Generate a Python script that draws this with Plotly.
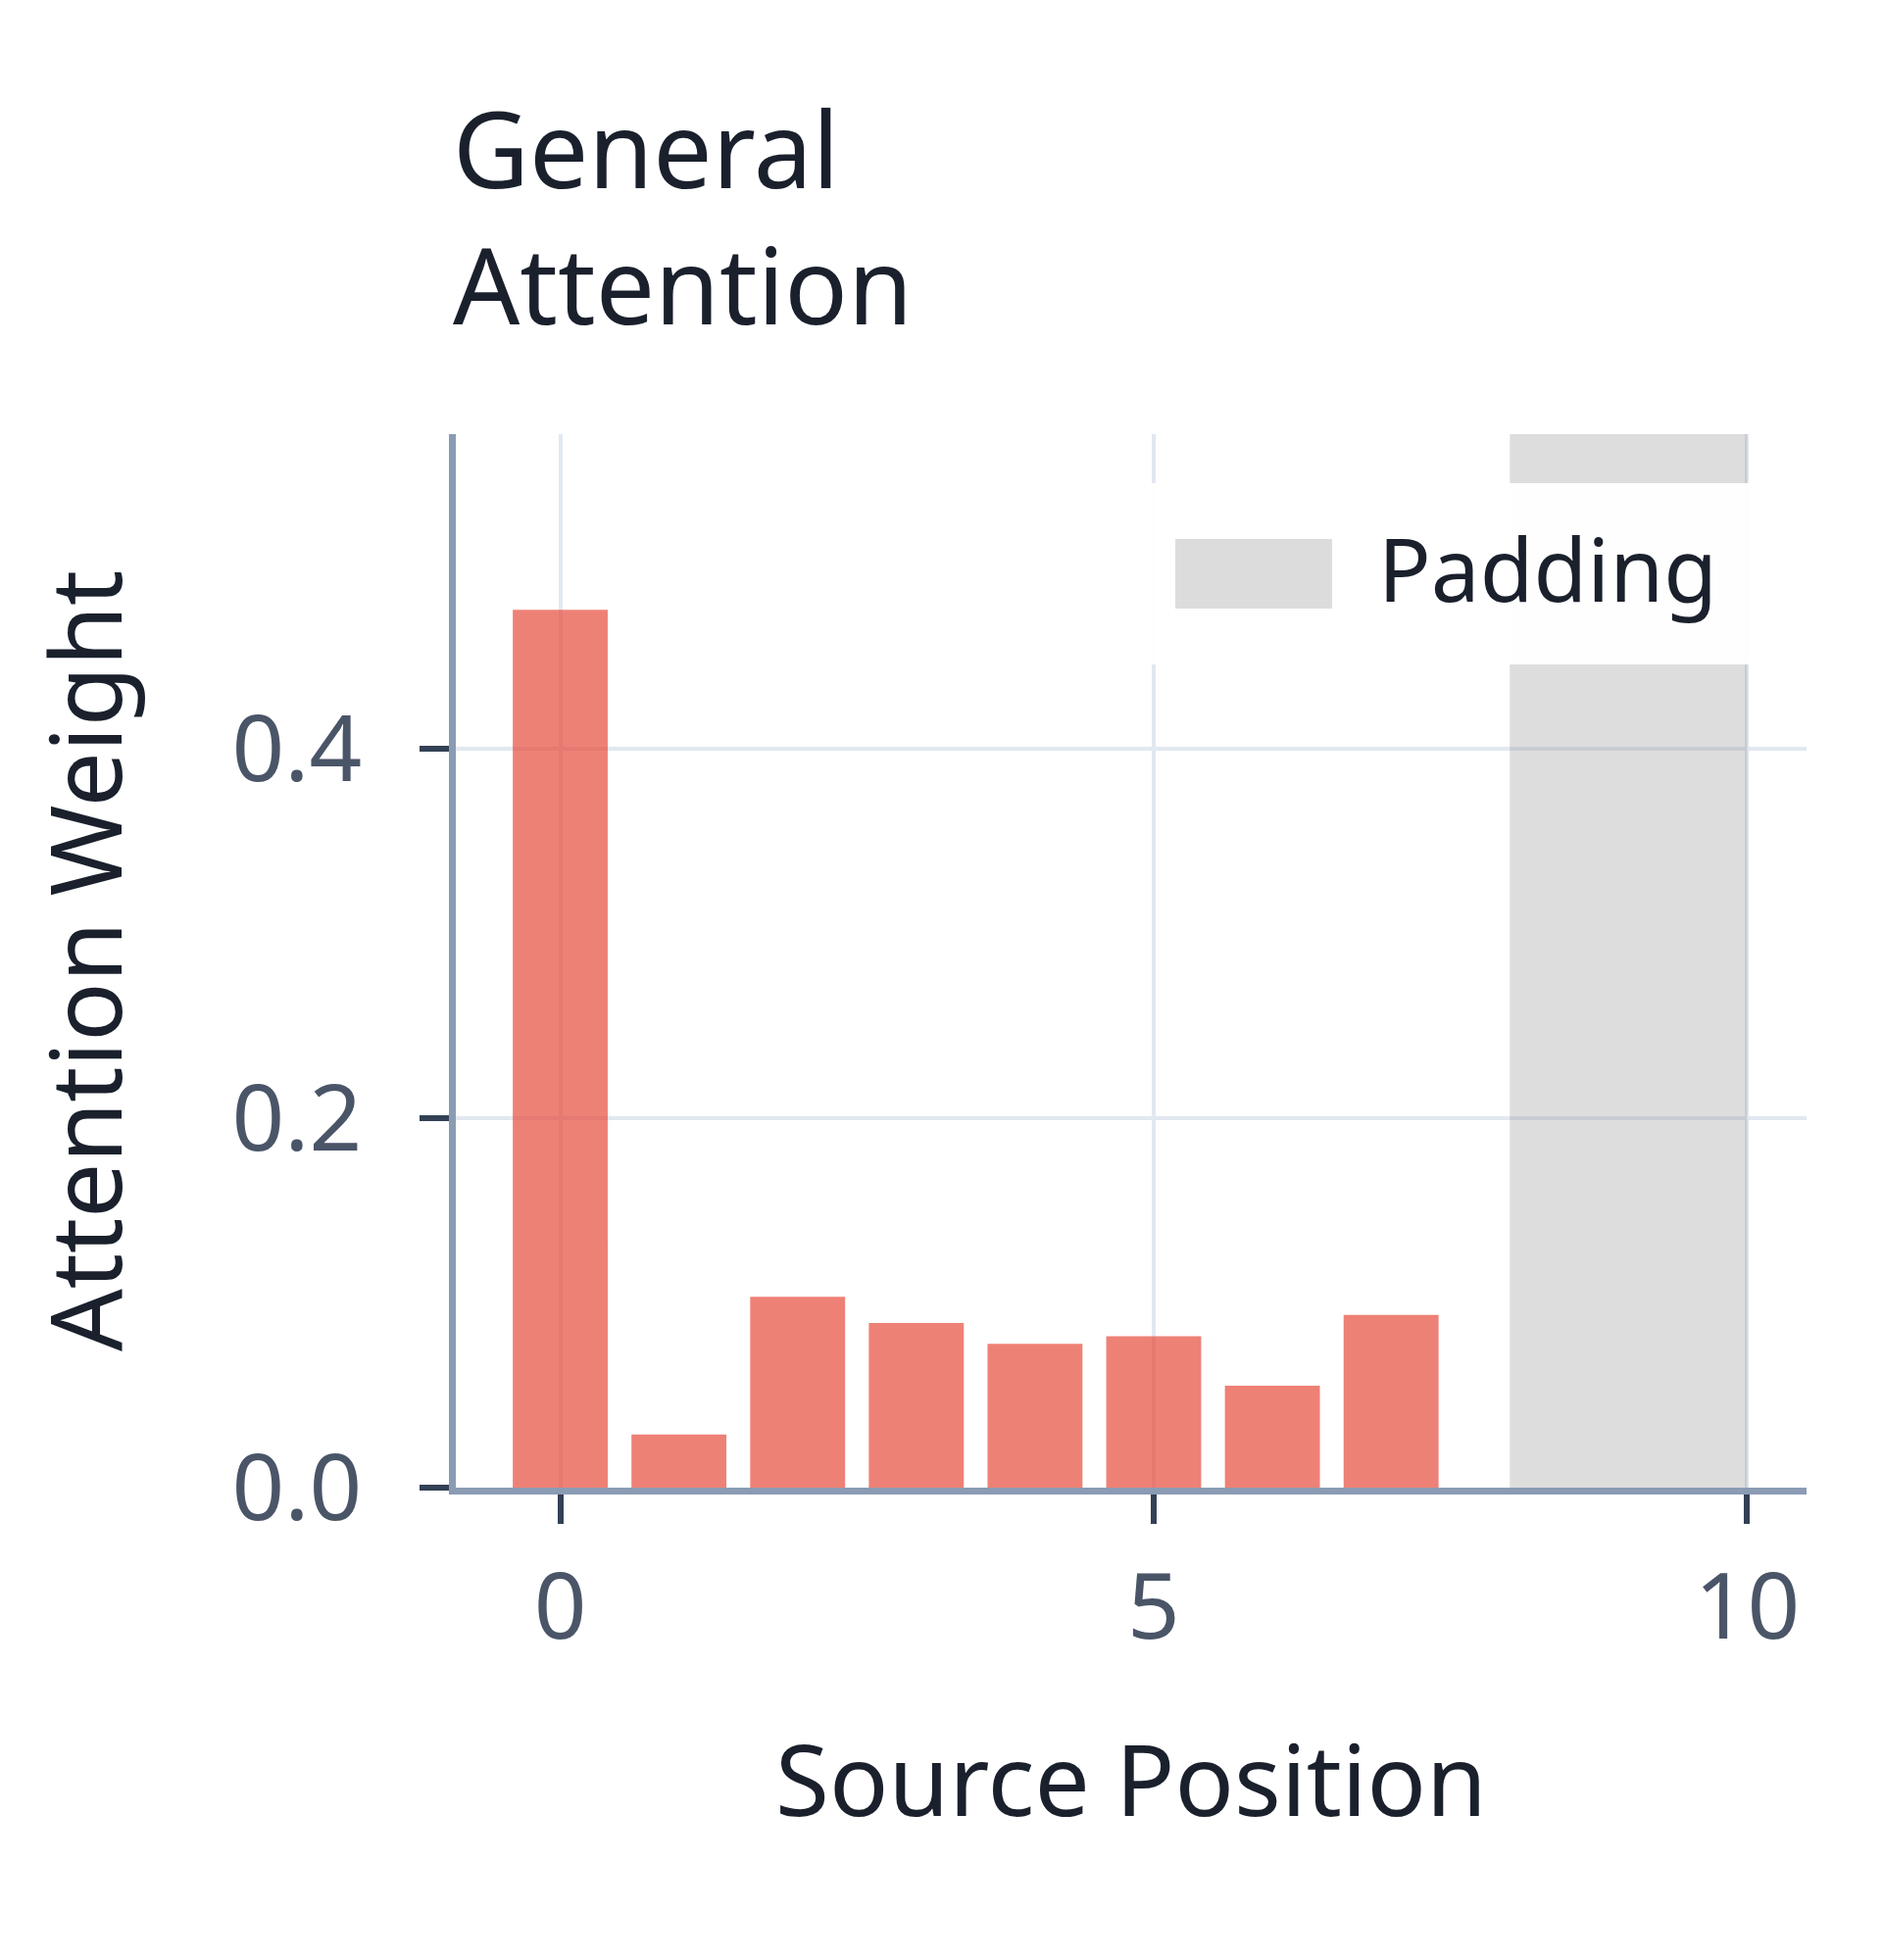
import plotly.graph_objects as go

# attention weights for the valid source positions
positions = [0, 1, 2, 3, 4, 5, 6, 7]
weights = [0.475, 0.0287, 0.1032, 0.0891, 0.0778, 0.0819, 0.0551, 0.0934]

# padded positions 8..9
pad_start = 8
pad_end = 10

x_ticks = [0, 5, 10]
y_ticks = [0.0, 0.2, 0.4]

title_text = "General<br>Attention"
x_title = "Source Position"
y_title = "Attention Weight"
legend_label = "Padding"

bar_color = "#e74c3c"
pad_color = "rgba(128,128,128,0.27)"
ink = "#1a202c"
tick_ink = "#4a5568"
axis_col = "#8a9bb4"
grid_col = "#e2e8f0"
font = "Noto Sans"

fig = go.Figure()
fig.add_trace(go.Bar(x=positions, y=weights, width=0.8,
                     marker=dict(color=bar_color, line=dict(width=0)),
                     opacity=0.7, showlegend=False))

# padding region
fig.add_vrect(x0=pad_start, x1=pad_end, fillcolor=pad_color, line_width=0,
              layer="above")

# hand made legend box (matplotlib style, wide swatch)
fig.add_shape(type="rect", xref="paper", yref="paper",
              x0=0.515, x1=0.963, y0=0.7814, y1=0.9535,
              fillcolor="rgba(255,255,255,0.95)", line_width=0, layer="above")
fig.add_shape(type="rect", xref="paper", yref="paper",
              x0=0.5327, x1=0.6488, y0=0.8344, y1=0.9005,
              fillcolor="#dcdcdc", line_width=0, layer="above")
fig.add_annotation(text=legend_label, xref="paper", yref="paper",
                   x=0.6814, y=0.8726, xanchor="left", yanchor="middle",
                   showarrow=False, font=dict(family=font, size=89, color=ink))

# title, left aligned with the y axis
fig.add_annotation(text=title_text, xref="paper", yref="paper", x=-0.0036, y=1.2075,
                   xanchor="left", yanchor="middle", align="left", showarrow=False,
                   font=dict(family=font, size=107, color=ink))

fig.update_layout(
    width=1904, height=1984,
    margin=dict(l=457, r=69, t=435, b=474),
    paper_bgcolor="white", plot_bgcolor="white",
    font=dict(family=font, color=ink),
    showlegend=False,
)

fig.update_xaxes(range=[-0.88, 10.5], tickvals=x_ticks,
                 showgrid=True, gridcolor=grid_col, gridwidth=4,
                 zeroline=False, showline=True, linecolor=axis_col, linewidth=7,
                 ticks="outside", ticklen=30, tickwidth=6, tickcolor="#334155",
                 tickfont=dict(family=font, size=94, color=tick_ink),
                 ticklabelstandoff=4,
                 title=dict(text=x_title, font=dict(family=font, size=100, color=ink),
                            standoff=87))
fig.update_yaxes(range=[0, 0.57], tickvals=y_ticks, tickformat=".1f",
                 showgrid=True, gridcolor=grid_col, gridwidth=4,
                 zeroline=False, showline=True, linecolor=axis_col, linewidth=7,
                 ticks="outside", ticklen=30, tickwidth=6, tickcolor="#334155",
                 tickfont=dict(family=font, size=94, color=tick_ink),
                 ticklabelstandoff=40,
                 title=dict(text=y_title, font=dict(family=font, size=100, color=ink),
                            standoff=81))

fig.write_html("out.html")
